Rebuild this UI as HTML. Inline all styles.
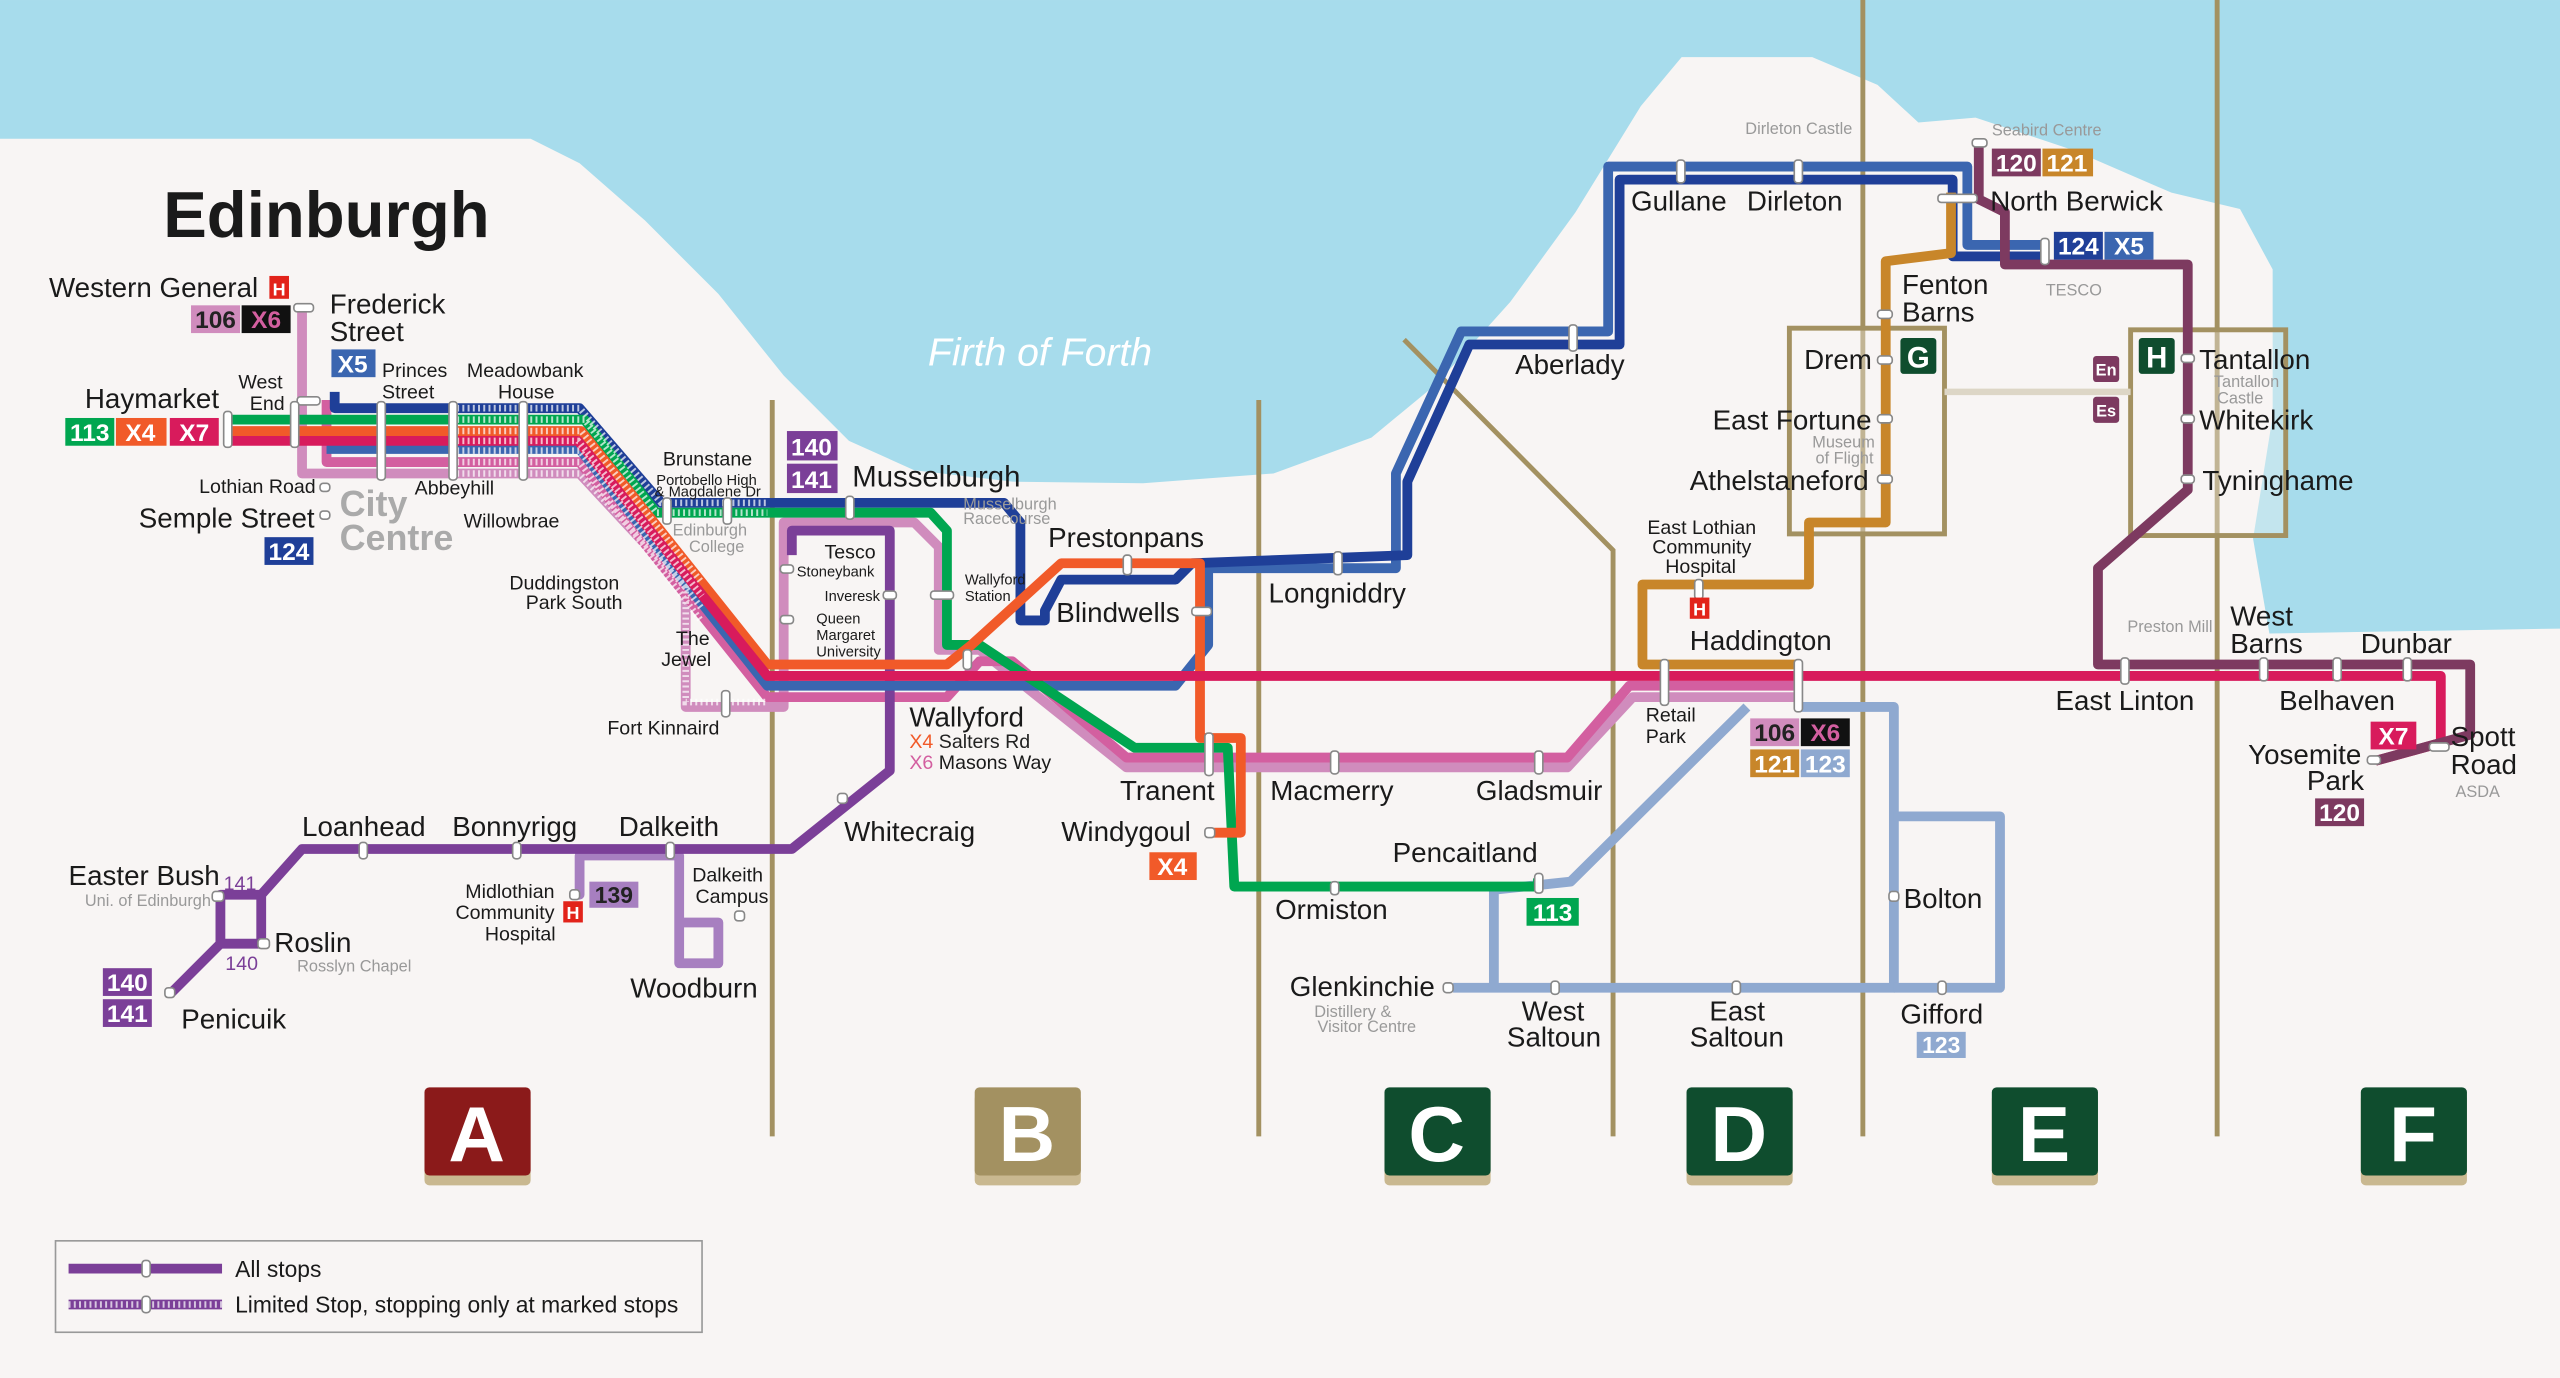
<!DOCTYPE html>
<html><head><meta charset="utf-8"><style>
html,body{margin:0;padding:0;background:#f8f5f4}
svg{display:block}
text{font-family:"Liberation Sans",sans-serif;fill:#1a1a1a}
.s{font-size:17px}.m{font-size:12px}.t{font-size:10px;fill:#999}
.w{fill:#fff;font-weight:bold}
.z{font-size:48px;font-weight:bold;fill:#fff}
.st{fill:#fff;stroke:#888;stroke-width:1}
</style></head><body>
<svg width="2560" height="1378" viewBox="0 0 1568 844" xmlns="http://www.w3.org/2000/svg">
<rect width="1568" height="844" fill="#a7dcec"/>
<path d="M0,85 L325,85 L355,100 L395,135 L440,180 L480,230 L520,270 L560,288 L620,295 L700,296 L780,290 L840,268 L880,235 L925,185 L965,130 L1005,65 L1030,35 L1110,35 L1150,52 L1175,75 L1210,72 L1270,92 L1330,118 L1372,128 L1392,165 L1392,255 L1380,330 L1390,388 L1568,385 L1568,844 L0,844 Z" fill="#f8f5f4"/>
<text x="637" y="224" style="font-size:24px;font-style:italic;fill:#fff" text-anchor="middle">Firth of Forth</text>
<text x="100" y="145" style="font-size:40px;font-weight:bold">Edinburgh</text>

<g stroke="#a39161" stroke-width="3" fill="none">
<line x1="473" y1="245" x2="473" y2="696"/><line x1="771" y1="245" x2="771" y2="696"/>
<polyline points="860,208 988,337 988,696"/>
<line x1="1141" y1="0" x2="1141" y2="696"/><line x1="1358" y1="0" x2="1358" y2="696"/>
<rect x="1096" y="201" width="95" height="126" fill="#f8f5f4" fill-opacity="0.35"/>
<rect x="1305" y="202" width="95" height="126" fill="#f8f5f4" fill-opacity="0.35"/>
</g>
<line x1="1191" y1="240" x2="1305" y2="240" stroke="#ddd6c6" stroke-width="4"/>

<g fill="none" stroke-width="6" stroke-linejoin="round" stroke-linecap="butt">
<polyline stroke="#d08cbd" points="185,190 185,290 355,290 420,360 420,433 470,433 480,433 480,320 560,320 575,335 575,398 600,398 690,470 960,470 1000,427 1100,427"/>
<polyline stroke="#d35fa0" points="200,245 200,283 355,283 470,427 580,427 600,405 620,405 690,464 960,464 998,420 1100,420"/>
<polyline stroke="#a77fc0" points="350,548 355,548 355,524 416,524 416,590 440,590 440,565 416,565"/>
<polyline stroke="#7b3f98" points="485,340 485,325 545,325 545,472 485,520 185,520 160,548 135,548 135,578 160,578 160,548"/>
<polyline stroke="#7b3f98" points="135,578 105,608"/>
<polyline stroke="#8fa9d0" points="1100,433 1160,433 1160,605 890,605"/>
<polyline stroke="#8fa9d0" points="1070,433 962,540 915,545 915,605"/>
<polyline stroke="#8fa9d0" points="1160,500 1225,500 1225,605 1160,605"/>
<polyline stroke="#3b66b0" points="200,275 355,275 470,420 720,420 740,395 740,348 855,348 855,290 895,203 985,203 985,102 1205,102 1205,150 1255,150"/>
<polyline stroke="#1f3f98" points="205,240 205,250 355,250 405,308 615,308 625,320 625,380 640,380 640,374 650,355 720,355 730,345 862,340 862,295 900,211 992,211 992,110 1196,110 1196,157 1255,157"/>
<polyline stroke="#00a650" points="140,257 358,257 402,314 570,314 580,325 580,395 600,395 695,458 752,458 756,543 942,543 942,538"/>
<polyline stroke="#f15a29" points="140,264 356,264 470,407 580,407 595,395 650,345 735,345 735,452 760,452 760,510 742,510"/>
<polyline stroke="#d81b5c" points="140,270 354,270 470,414 1495,414 1495,455 1455,466"/>
<polyline stroke="#c8862a" points="1195,118 1195,155 1155,160 1155,320 1108,320 1108,358 1006,358 1006,407 1100,407"/>
<polyline stroke="#7d3a60" points="1212,90 1212,122 1228,130 1228,162 1340,162 1340,300 1285,348 1285,407 1513,407 1513,450 1455,466"/>
</g>
<g stroke="#fff" stroke-width="4" stroke-dasharray="1.2 2" fill="none" opacity="0.7">
<polyline points="280,250 355,250 405,308 470,308"/><polyline points="280,257 358,257 402,314 470,314"/>
<polyline points="280,264 356,264 430,357"/><polyline points="280,270 354,270 430,365"/>
<polyline points="280,276 355,276 430,373"/><polyline points="280,283 355,283 430,381"/>
<polyline points="280,290 355,290 420,360 420,430 470,430"/>
</g>

<g class="st">
<rect x="180" y="186" width="12" height="5" rx="2"/><rect x="182" y="243" width="14" height="5" rx="2"/>
<rect x="137" y="252" width="5" height="22" rx="2"/><rect x="178" y="246" width="5" height="28" rx="2"/>
<rect x="231" y="246" width="5" height="48" rx="2"/><rect x="275" y="246" width="5" height="48" rx="2"/>
<rect x="318" y="246" width="5" height="48" rx="2"/><rect x="196" y="296" width="6" height="5" rx="2"/><rect x="196" y="313" width="6" height="5" rx="2"/>
<rect x="443" y="305" width="5" height="16" rx="2"/><rect x="406" y="305" width="5" height="16" rx="2"/>
<rect x="518" y="304" width="5" height="14" rx="2"/><rect x="442" y="423" width="5" height="16" rx="2"/>
<rect x="478" y="346" width="8" height="5" rx="2"/><rect x="541" y="362" width="8" height="5" rx="2"/><rect x="478" y="377" width="8" height="5" rx="2"/>
<rect x="570" y="362" width="14" height="5" rx="2"/><rect x="590" y="398" width="5" height="12" rx="2"/>
<rect x="688" y="340" width="5" height="12" rx="2"/><rect x="730" y="372" width="12" height="5" rx="2"/>
<rect x="817" y="338" width="5" height="14" rx="2"/><rect x="961" y="199" width="5" height="16" rx="2"/>
<rect x="1027" y="98" width="5" height="14" rx="2"/><rect x="1099" y="98" width="5" height="14" rx="2"/>
<rect x="1187" y="119" width="24" height="5" rx="2"/><rect x="1250" y="146" width="5" height="16" rx="2"/>
<rect x="1208" y="85" width="9" height="5" rx="2"/>
<rect x="1150" y="190" width="9" height="5" rx="2"/><rect x="1150" y="218" width="9" height="5" rx="2"/><rect x="1150" y="254" width="9" height="5" rx="2"/><rect x="1150" y="291" width="9" height="5" rx="2"/>
<rect x="1336" y="217" width="8" height="5" rx="2"/><rect x="1336" y="254" width="8" height="5" rx="2"/><rect x="1336" y="291" width="8" height="5" rx="2"/>
<rect x="1038" y="355" width="5" height="12" rx="2"/>
<rect x="1017" y="404" width="5" height="28" rx="2"/><rect x="1099" y="404" width="5" height="32" rx="2"/>
<rect x="1299" y="403" width="5" height="16" rx="2"/><rect x="1384" y="403" width="5" height="14" rx="2"/><rect x="1429" y="403" width="5" height="14" rx="2"/><rect x="1472" y="403" width="5" height="14" rx="2"/>
<rect x="1488" y="455" width="12" height="5" rx="2"/><rect x="1450" y="463" width="8" height="5" rx="2"/>
<rect x="738" y="449" width="5" height="26" rx="2"/><rect x="815" y="460" width="5" height="14" rx="2"/><rect x="940" y="460" width="5" height="14" rx="2"/>
<rect x="738" y="507" width="6" height="6" rx="2"/><rect x="815" y="540" width="5" height="8" rx="2"/><rect x="940" y="535" width="5" height="12" rx="2"/>
<rect x="884" y="602" width="6" height="6" rx="2"/><rect x="950" y="601" width="5" height="8" rx="2"/><rect x="1061" y="601" width="5" height="8" rx="2"/><rect x="1187" y="601" width="5" height="8" rx="2"/>
<rect x="1157" y="546" width="6" height="6" rx="2"/>
<rect x="220" y="516" width="5" height="10" rx="2"/><rect x="314" y="516" width="5" height="10" rx="2"/><rect x="408" y="516" width="5" height="10" rx="2"/>
<rect x="513" y="486" width="6" height="6" rx="2"/><rect x="130" y="546" width="7" height="6" rx="2"/><rect x="158" y="575" width="7" height="6" rx="2"/><rect x="101" y="605" width="6" height="6" rx="2"/>
<rect x="349" y="545" width="6" height="6" rx="2"/><rect x="450" y="558" width="6" height="6" rx="2"/>
</g>

<g>
<rect x="117" y="187" width="30" height="17" fill="#d08cbd"/><text x="132" y="201" style="font-size:15px;font-weight:bold;fill:#222" text-anchor="middle">106</text>
<rect x="148" y="187" width="30" height="17" fill="#111"/><text x="163" y="201" style="font-size:15px;font-weight:bold;fill:#d35fa0" text-anchor="middle">X6</text>
<rect x="165" y="169" width="12" height="14" fill="#e2231a"/><text x="171" y="181" class="w" style="font-size:11px" text-anchor="middle">H</text>
<rect x="203" y="214" width="27" height="17" fill="#3b66b0"/><text x="216" y="228" class="w" style="font-size:15px" text-anchor="middle">X5</text>
<rect x="40" y="256" width="30" height="17" fill="#00a650"/><text x="55" y="270" class="w" style="font-size:15px" text-anchor="middle">113</text>
<rect x="71" y="256" width="31" height="17" fill="#f15a29"/><text x="86" y="270" class="w" style="font-size:15px" text-anchor="middle">X4</text>
<rect x="104" y="256" width="30" height="17" fill="#d81b5c"/><text x="119" y="270" class="w" style="font-size:15px" text-anchor="middle">X7</text>
<rect x="162" y="329" width="30" height="17" fill="#1f3f98"/><text x="177" y="343" class="w" style="font-size:15px" text-anchor="middle">124</text>
<rect x="482" y="264" width="31" height="18" fill="#7b3f98"/><text x="497" y="279" class="w" style="font-size:15px" text-anchor="middle">140</text>
<rect x="482" y="284" width="31" height="18" fill="#7b3f98"/><text x="497" y="299" class="w" style="font-size:15px" text-anchor="middle">141</text>
<rect x="704" y="522" width="29" height="17" fill="#f15a29"/><text x="718" y="536" class="w" style="font-size:15px" text-anchor="middle">X4</text>
<rect x="935" y="550" width="32" height="17" fill="#00a650"/><text x="951" y="564" class="w" style="font-size:15px" text-anchor="middle">113</text>
<rect x="1220" y="91" width="30" height="17" fill="#7d3a60"/><text x="1235" y="105" class="w" style="font-size:15px" text-anchor="middle">120</text>
<rect x="1251" y="91" width="31" height="17" fill="#c8862a"/><text x="1266" y="105" class="w" style="font-size:15px" text-anchor="middle">121</text>
<rect x="1258" y="142" width="30" height="17" fill="#1f3f98"/><text x="1273" y="156" class="w" style="font-size:15px" text-anchor="middle">124</text>
<rect x="1289" y="142" width="30" height="17" fill="#3b66b0"/><text x="1304" y="156" class="w" style="font-size:15px" text-anchor="middle">X5</text>
<rect x="1072" y="440" width="30" height="17" fill="#d08cbd"/><text x="1087" y="454" style="font-size:15px;font-weight:bold;fill:#222" text-anchor="middle">106</text>
<rect x="1103" y="440" width="30" height="17" fill="#111"/><text x="1118" y="454" style="font-size:15px;font-weight:bold;fill:#d35fa0" text-anchor="middle">X6</text>
<rect x="1072" y="459" width="30" height="17" fill="#c8862a"/><text x="1087" y="473" class="w" style="font-size:15px" text-anchor="middle">121</text>
<rect x="1103" y="459" width="30" height="17" fill="#8fa9d0"/><text x="1118" y="473" class="w" style="font-size:15px" text-anchor="middle">123</text>
<rect x="1174" y="632" width="30" height="16" fill="#8fa9d0"/><text x="1189" y="645" class="w" style="font-size:14px" text-anchor="middle">123</text>
<rect x="1452" y="442" width="28" height="17" fill="#d81b5c"/><text x="1466" y="456" class="w" style="font-size:15px" text-anchor="middle">X7</text>
<rect x="1418" y="489" width="30" height="17" fill="#7d3a60"/><text x="1433" y="503" class="w" style="font-size:15px" text-anchor="middle">120</text>
<rect x="361" y="540" width="30" height="16" fill="#a77fc0"/><text x="376" y="553" style="font-size:14px;font-weight:bold;fill:#222" text-anchor="middle">139</text>
<rect x="63" y="593" width="30" height="17" fill="#7b3f98"/><text x="78" y="607" class="w" style="font-size:15px" text-anchor="middle">140</text>
<rect x="63" y="612" width="30" height="17" fill="#7b3f98"/><text x="78" y="626" class="w" style="font-size:15px" text-anchor="middle">141</text>
<rect x="345" y="552" width="12" height="13" fill="#e2231a"/><text x="351" y="563" class="w" style="font-size:11px" text-anchor="middle">H</text>
<rect x="1035" y="366" width="12" height="13" fill="#e2231a"/><text x="1041" y="377" class="w" style="font-size:11px" text-anchor="middle">H</text>
<rect x="1164" y="207" width="22" height="22" rx="2" fill="#0f4d2e"/><text x="1175" y="225" class="w" style="font-size:18px" text-anchor="middle">G</text>
<rect x="1310" y="207" width="22" height="22" rx="2" fill="#0f4d2e"/><text x="1321" y="225" class="w" style="font-size:18px" text-anchor="middle">H</text>
<rect x="1282" y="218" width="16" height="16" rx="2" fill="#7d3a60"/><text x="1290" y="230" class="w" style="font-size:10px" text-anchor="middle">En</text>
<rect x="1282" y="243" width="16" height="16" rx="2" fill="#7d3a60"/><text x="1290" y="255" class="w" style="font-size:10px" text-anchor="middle">Es</text>
</g>

<g class="s">
<text x="30" y="182">Western General</text>
<text x="202" y="192">Frederick</text><text x="202" y="209">Street</text>
<text x="52" y="250">Haymarket</text>
<text x="146" y="238" class="m">West</text><text x="153" y="251" class="m">End</text>
<text x="234" y="231" class="m">Princes</text><text x="234" y="244" class="m">Street</text>
<text x="286" y="231" class="m">Meadowbank</text><text x="305" y="244" class="m">House</text>
<text x="122" y="302" class="m">Lothian Road</text>
<text x="85" y="323">Semple Street</text>
<text x="254" y="303" class="m">Abbeyhill</text>
<text x="284" y="323" class="m">Willowbrae</text>
<text x="208" y="316" style="font-size:22px;font-weight:bold;fill:#aaa">City</text>
<text x="208" y="337" style="font-size:22px;font-weight:bold;fill:#aaa">Centre</text>
<text x="312" y="361" class="m">Duddingston</text><text x="322" y="373" class="m">Park South</text>
<text x="414" y="395" class="m">The</text><text x="405" y="408" class="m">Jewel</text>
<text x="372" y="450" class="m">Fort Kinnaird</text>
<text x="406" y="285" class="m">Brunstane</text>
<text x="402" y="297" style="font-size:9px">Portobello High</text><text x="401" y="304" style="font-size:9px">&amp; Magdalene Dr</text>
<text x="412" y="328" class="t">Edinburgh</text><text x="422" y="338" class="t">College</text>
<text x="522" y="298" style="font-size:18px">Musselburgh</text>
<text x="590" y="312" class="t">Musselburgh</text><text x="590" y="321" class="t">Racecourse</text>
<text x="505" y="342" class="m">Tesco</text>
<text x="488" y="353" style="font-size:9px">Stoneybank</text>
<text x="505" y="368" style="font-size:9px">Inveresk</text>
<text x="500" y="382" style="font-size:9px">Queen</text><text x="500" y="392" style="font-size:9px">Margaret</text><text x="500" y="402" style="font-size:9px">University</text>
<text x="591" y="358" style="font-size:9px">Wallyford</text><text x="591" y="368" style="font-size:9px">Station</text>
<text x="642" y="335">Prestonpans</text>
<text x="647" y="381">Blindwells</text>
<text x="777" y="369">Longniddry</text>
<text x="928" y="229">Aberlady</text>
<text x="557" y="445">Wallyford</text>
<text x="557" y="458" class="m" style="fill:#222"><tspan fill="#f15a29">X4</tspan> Salters Rd</text>
<text x="557" y="471" class="m"><tspan fill="#d35fa0">X6</tspan> Masons Way</text>
<text x="517" y="515">Whitecraig</text>
<text x="686" y="490">Tranent</text>
<text x="778" y="490">Macmerry</text>
<text x="904" y="490">Gladsmuir</text>
<text x="650" y="515">Windygoul</text>
<text x="853" y="528">Pencaitland</text>
<text x="781" y="563">Ormiston</text>
<text x="790" y="610">Glenkinchie</text>
<text x="805" y="623" class="t">Distillery &amp;</text><text x="807" y="632" class="t">Visitor Centre</text>
<text x="932" y="625">West</text><text x="923" y="641">Saltoun</text>
<text x="1047" y="625">East</text><text x="1035" y="641">Saltoun</text>
<text x="1164" y="627">Gifford</text>
<text x="1166" y="556">Bolton</text>
<text x="185" y="512">Loanhead</text><text x="277" y="512">Bonnyrigg</text><text x="379" y="512">Dalkeith</text>
<text x="424" y="540" class="m">Dalkeith</text><text x="426" y="553" class="m">Campus</text>
<text x="285" y="550" class="m">Midlothian</text><text x="279" y="563" class="m">Community</text><text x="297" y="576" class="m">Hospital</text>
<text x="386" y="611">Woodburn</text>
<text x="42" y="542">Easter Bush</text>
<text x="137" y="545" class="m" style="fill:#7b3f98">141</text>
<text x="52" y="555" class="t">Uni. of Edinburgh</text>
<text x="168" y="583">Roslin</text>
<text x="138" y="594" class="m" style="fill:#7b3f98">140</text>
<text x="182" y="595" class="t">Rosslyn Chapel</text>
<text x="111" y="630">Penicuik</text>
<text x="999" y="129">Gullane</text><text x="1070" y="129">Dirleton</text>
<text x="1069" y="82" class="t">Dirleton Castle</text>
<text x="1220" y="83" class="t">Seabird Centre</text>
<text x="1219" y="129">North Berwick</text>
<text x="1253" y="181" class="t">TESCO</text>
<text x="1165" y="180">Fenton</text><text x="1165" y="197">Barns</text>
<text x="1105" y="226">Drem</text>
<text x="1049" y="263">East Fortune</text>
<text x="1110" y="274" class="t">Museum</text><text x="1112" y="284" class="t">of Flight</text>
<text x="1035" y="300">Athelstaneford</text>
<text x="1009" y="327" class="m">East Lothian</text><text x="1012" y="339" class="m">Community</text><text x="1020" y="351" class="m">Hospital</text>
<text x="1035" y="398">Haddington</text>
<text x="1008" y="442" class="m">Retail</text><text x="1008" y="455" class="m">Park</text>
<text x="1347" y="226">Tantallon</text>
<text x="1356" y="237" class="t">Tantallon</text><text x="1358" y="247" class="t">Castle</text>
<text x="1347" y="263">Whitekirk</text>
<text x="1349" y="300">Tyninghame</text>
<text x="1303" y="387" class="t">Preston Mill</text>
<text x="1366" y="383">West</text><text x="1366" y="400">Barns</text>
<text x="1446" y="400">Dunbar</text>
<text x="1259" y="435">East Linton</text>
<text x="1396" y="435">Belhaven</text>
<text x="1377" y="468">Yosemite</text><text x="1413" y="484">Park</text>
<text x="1501" y="457">Spott</text><text x="1501" y="474">Road</text>
<text x="1504" y="488" class="t">ASDA</text>
</g>

<g>
<rect x="260" y="670" width="65" height="56" rx="3" fill="#c9b890"/><rect x="260" y="666" width="65" height="54" rx="3" fill="#8b1a1a"/><text x="292" y="711" class="z" text-anchor="middle">A</text>
<rect x="597" y="670" width="65" height="56" rx="3" fill="#c9b890"/><rect x="597" y="666" width="65" height="54" rx="3" fill="#a39161"/><text x="629" y="711" class="z" text-anchor="middle">B</text>
<rect x="848" y="670" width="65" height="56" rx="3" fill="#c9b890"/><rect x="848" y="666" width="65" height="54" rx="3" fill="#0f4d2e"/><text x="880" y="711" class="z" text-anchor="middle">C</text>
<rect x="1033" y="670" width="65" height="56" rx="3" fill="#c9b890"/><rect x="1033" y="666" width="65" height="54" rx="3" fill="#0f4d2e"/><text x="1065" y="711" class="z" text-anchor="middle">D</text>
<rect x="1220" y="670" width="65" height="56" rx="3" fill="#c9b890"/><rect x="1220" y="666" width="65" height="54" rx="3" fill="#0f4d2e"/><text x="1252" y="711" class="z" text-anchor="middle">E</text>
<rect x="1446" y="670" width="65" height="56" rx="3" fill="#c9b890"/><rect x="1446" y="666" width="65" height="54" rx="3" fill="#0f4d2e"/><text x="1478" y="711" class="z" text-anchor="middle">F</text>
</g>

<rect x="34" y="760" width="396" height="56" fill="#f8f5f4" stroke="#999" stroke-width="1"/>
<line x1="42" y1="777" x2="136" y2="777" stroke="#7b3f98" stroke-width="6"/>
<line x1="42" y1="799" x2="136" y2="799" stroke="#7b3f98" stroke-width="6"/>
<line x1="42" y1="799" x2="136" y2="799" stroke="#fff" stroke-width="4" stroke-dasharray="1.2 2" opacity="0.7"/>
<rect x="87" y="772" width="5" height="10" rx="2" class="st"/><rect x="87" y="794" width="5" height="10" rx="2" class="st"/>
<text x="144" y="782" style="font-size:14px">All stops</text>
<text x="144" y="804" style="font-size:14px">Limited Stop, stopping only at marked stops</text>
</svg>
</body></html>
